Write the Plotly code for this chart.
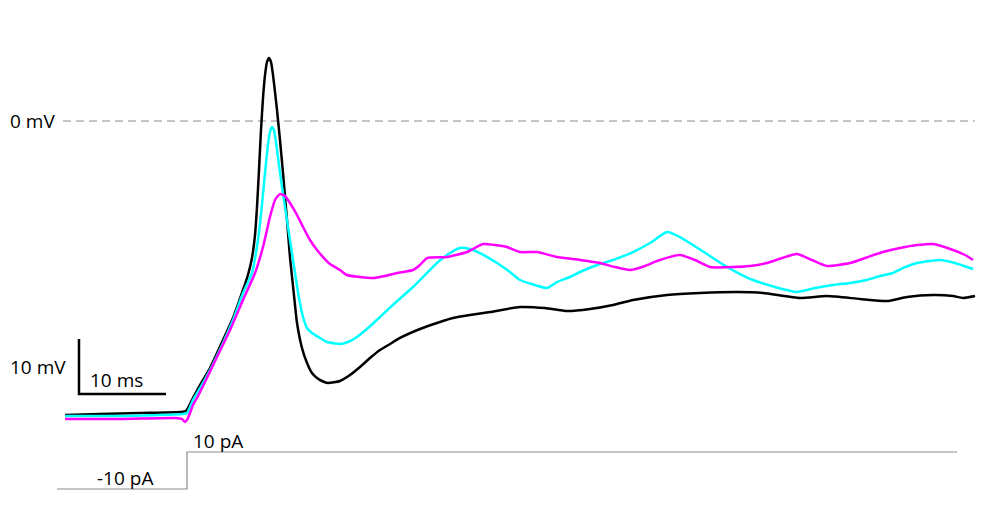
import plotly.graph_objects as go

# ---- data (time in ms, membrane potential in mV, current in pA) ----
black_t = [0, 4.02, 8.62, 13.22, 13.91, 14.71, 15.52, 16.67, 18.16, 19.31, 20.46, 21.03, 21.49, 21.84,
           22.07, 22.30, 22.53, 22.76, 22.99, 23.22, 23.45, 23.68, 23.91, 24.14, 24.37, 24.71, 25.06,
           25.52, 25.86, 26.32, 26.67, 27.24, 27.82, 28.39, 28.97, 29.54, 30.23, 31.61, 32.76, 33.91,
           35.06, 36.21, 37.36, 38.51, 40.80, 43.10, 44.60, 46.55, 48.85, 52.30, 55.17, 57.70, 60.34,
           62.99, 65.29, 69.20, 72.99, 77.24, 80.23, 84.48, 87.59, 91.38, 94.48, 96.78, 99.77, 102.07,
           103.22, 104.60]
black_v = [-53.45, -53.27, -53.09, -52.91, -52.73, -50.36, -48.0, -44.91, -39.82, -35.82, -30.73, -28.0,
           -24.9, -20.73, -15.64, -8.91, -1.64, 4.18, 8.36, 10.73, 11.45, 10.73, 8.36, 5.27, 2.0, -3.45,
           -9.45, -18.0, -24.73, -31.64, -36.73, -41.27, -44.0, -45.82, -46.73, -47.27, -47.64, -47.27,
           -46.18, -44.73, -43.09, -41.64, -40.55, -39.45, -37.82, -36.55, -35.82, -35.27, -34.73, -33.82,
           -34.0, -34.55, -34.18, -33.45, -32.55, -31.64, -31.27, -31.09, -31.27, -32.18, -31.82, -32.36,
           -32.73, -32.0, -31.64, -31.82, -32.18, -31.82]

cyan_t = [0, 6.32, 13.56, 14.02, 14.71, 15.52, 16.67, 18.16, 19.31, 20.46, 21.49, 22.18, 22.64, 22.99,
          23.33, 23.56, 23.79, 24.02, 24.25, 24.48, 24.83, 25.29, 25.86, 26.44, 26.90, 27.36, 27.82,
          28.39, 29.31, 30.11, 31.61, 32.53, 33.56, 34.83, 36.21, 37.93, 40.0, 42.76, 44.25, 45.40,
          46.55, 47.70, 49.66, 51.15, 52.30, 54.02, 55.40, 56.55, 58.05, 59.20, 61.49, 62.99, 65.29,
          67.24, 69.20, 70.69, 72.18, 74.14, 76.09, 77.59, 79.08, 81.61, 84.14, 86.21, 88.28, 90.23,
          92.18, 93.68, 95.17, 96.55, 97.93, 99.43, 100.57, 102.30, 104.37]
cyan_v = [-53.64, -53.64, -53.27, -53.09, -50.73, -48.55, -45.27, -40.36, -36.18, -31.27, -27.64, -21.64,
          -15.27, -9.45, -4.36, -2.0, -1.09, -1.64, -3.82, -6.55, -10.73, -15.64, -21.64, -27.64, -32.18,
          -35.64, -37.64, -38.55, -39.45, -40.18, -40.55, -40.18, -39.27, -37.64, -35.64, -33.09, -30.18,
          -25.82, -24.0, -23.09, -23.27, -24.0, -25.82, -27.45, -28.91, -29.82, -30.36, -29.27, -28.36,
          -27.45, -26.0, -25.27, -23.82, -22.18, -20.18, -21.09, -22.55, -24.55, -26.55, -27.82, -28.91,
          -30.18, -31.09, -30.36, -29.82, -29.45, -28.91, -28.18, -27.64, -26.55, -25.82, -25.45, -25.27,
          -25.82, -26.91]

magenta_t = [0, 6.32, 12.64, 13.45, 13.79, 14.14, 14.71, 15.17, 16.09, 17.47, 18.97, 20.46, 21.84,
             22.76, 23.56, 24.14, 24.71, 25.29, 25.86, 26.67, 27.36, 28.16, 28.97, 29.66, 30.46, 31.61,
             32.41, 33.91, 35.40, 36.78, 38.16, 40.0, 40.80, 41.61, 43.91, 46.21, 48.05, 49.43, 50.80,
             52.30, 54.25, 56.55, 59.20, 61.49, 63.22, 64.94, 66.67, 68.05, 70.69, 72.41, 74.14, 76.78,
             78.74, 80.69, 82.41, 84.14, 85.86, 87.59, 90.23, 91.95, 94.02, 95.98, 97.93, 99.77, 102.07,
             103.45, 104.37]
magenta_v = [-54.18, -54.18, -54.0, -54.18, -54.73, -54.0, -51.64, -50.36, -47.45, -42.91, -38.0, -32.55,
             -27.64, -22.91, -17.45, -14.36, -13.27, -13.64, -14.91, -17.09, -19.27, -21.64, -23.45,
             -24.73, -26.0, -27.09, -28.0, -28.36, -28.55, -28.18, -27.64, -27.09, -26.18, -24.91, -24.73,
             -23.82, -22.36, -22.55, -22.91, -23.82, -23.82, -24.73, -25.27, -25.82, -26.55, -27.09,
             -26.36, -25.45, -24.36, -25.27, -26.55, -26.55, -26.36, -25.82, -24.91, -24.18, -25.27,
             -26.36, -25.82, -24.91, -23.82, -23.09, -22.55, -22.36, -23.45, -24.36, -25.27]

current_t = [-0.92, 14.02, 14.02, 102.53]
current_pa = [-10, -10, 10, 10]

scalebar_origin = (1.61, -49.64)   # ms, mV
scalebar_ms = 10
scalebar_mv = 10

fig = go.Figure()

fig.add_trace(go.Scatter(x=current_t, y=current_pa, mode="lines", yaxis="y2",
                         line=dict(color="#8c8c8c", width=1.2), showlegend=False))

# 0 mV reference
fig.add_trace(go.Scatter(x=[-0.23, 104.6], y=[0, 0], mode="lines",
                         line=dict(color="#8a8a8a", width=1, dash="8px,5px"), showlegend=False))

for t, v, c in [(black_t, black_v, "#000000"), (cyan_t, cyan_v, "#00ffff"), (magenta_t, magenta_v, "#ff00ff")]:
    fig.add_trace(go.Scatter(x=t, y=v, mode="lines", line=dict(color=c, width=2.5, shape="spline", smoothing=0.5),
                             showlegend=False))

# scale bar
sx, sy = scalebar_origin
fig.add_trace(go.Scatter(x=[sx, sx, sx + scalebar_ms], y=[sy + scalebar_mv, sy, sy], mode="lines",
                         line=dict(color="#000000", width=2.5), showlegend=False))

font = dict(family="Open Sans, Noto Sans, sans-serif", size=19, color="#000000")
ann = [
    dict(x=-0.92, y=0, xref="x", yref="y", text="0 mV", xanchor="right", yanchor="middle"),
    dict(x=0.35, y=-44.7, xref="x", yref="y", text="10 mV", xanchor="right", yanchor="middle"),
    dict(x=2.6, y=-47.1, xref="x", yref="y", text="10 ms", xanchor="left", yanchor="middle"),
    dict(x=10.35, y=-3.8, xref="x", yref="y2", text="-10 pA", xanchor="right", yanchor="middle"),
    dict(x=14.5, y=16.2, xref="x", yref="y2", text="10 pA", xanchor="left", yanchor="middle"),
]
for a in ann:
    a.update(showarrow=False, font=font)

# page has an 8px body margin: ranges are set so that page pixels line up with the reference
fig.update_layout(
    width=1004, height=520,
    margin=dict(l=0, r=0, t=0, b=0),
    paper_bgcolor="white", plot_bgcolor="white",
    xaxis=dict(range=[-6.55, 108.85], visible=False, fixedrange=True),
    yaxis=dict(range=[-74.0, 20.55], visible=False, fixedrange=True),
    yaxis2=dict(range=[-31.08, 250.0], visible=False, overlaying="y", fixedrange=True),
    annotations=ann,
    showlegend=False,
)

fig.write_html("out.html")
